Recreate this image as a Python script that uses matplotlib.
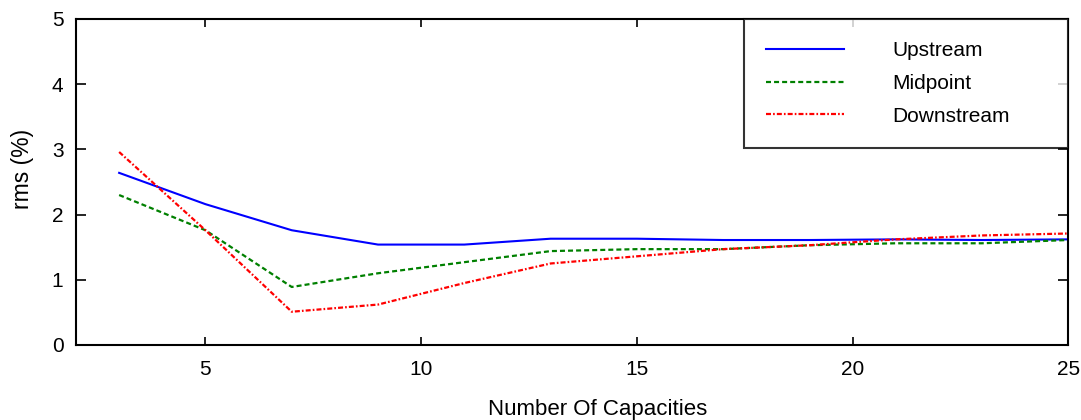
import matplotlib
matplotlib.use('Agg')
import matplotlib.pyplot as plt

plt.rcParams['font.family'] = ['Liberation Sans', 'DejaVu Sans']
plt.rcParams['lines.scale_dashes'] = False

# rms error against number of capacities, at odd counts
capacities = [3, 5, 7, 9, 11, 13, 15, 17, 19, 21, 23, 25]
upstream = [2.64, 2.16, 1.76, 1.54, 1.54, 1.63, 1.63, 1.61, 1.61, 1.62, 1.61, 1.62]
midpoint = [2.30, 1.76, 0.89, 1.10, 1.27, 1.44, 1.47, 1.47, 1.53, 1.56, 1.56, 1.61]
downstream = [2.96, 1.76, 0.51, 0.62, 0.95, 1.25, 1.36, 1.47, 1.53, 1.62, 1.68, 1.71]

x_ticks = [5, 10, 15, 20, 25]
y_ticks = [0, 1, 2, 3, 4, 5]

fig = plt.figure(figsize=(10.81, 4.2), dpi=100)
ax = fig.add_axes([0.0703, 0.1786, 0.918, 0.7762])

ax.plot(capacities, upstream, color=(0, 0, 1), lw=1.5, label='Upstream')
ax.plot(capacities, midpoint, color=(0, 0.5, 0), lw=1.6, dashes=(3.6, 2.2),
        label='Midpoint')
ax.plot(capacities, downstream, color=(1, 0, 0), lw=1.6,
        dashes=(3.6, 1.5, 1.2, 1.5), label='Downstream')

ax.set_xlim(2, 25)
ax.set_ylim(0, 5)
ax.set_xticks(x_ticks)
ax.set_yticks(y_ticks)

for s in ax.spines.values():
    s.set_linewidth(1.5)
ax.tick_params(direction='in', top=True, right=True, width=1.2, labelsize=15)
ax.tick_params(axis='x', length=6, pad=11)
ax.tick_params(axis='y', length=7, pad=9)

ax.set_xlabel('Number Of Capacities', fontsize=16)
ax.set_ylabel('rms (%)', fontsize=16.5)
ax.xaxis.set_label_coords((597 - 76) / 992, -0.165)
ax.yaxis.set_label_coords(-0.042, 0.54)

leg = ax.legend(loc='upper left', bbox_to_anchor=(0.673, 0.0, 0.327, 1.0),
                mode='expand', fontsize=15, frameon=True, fancybox=False,
                borderaxespad=0, borderpad=1.05, handlelength=3.74,
                handletextpad=2.35, labelspacing=0.67)
leg.get_frame().set_edgecolor('black')
leg.get_frame().set_linewidth(1.5)

fig.savefig('out.png', dpi=100)
